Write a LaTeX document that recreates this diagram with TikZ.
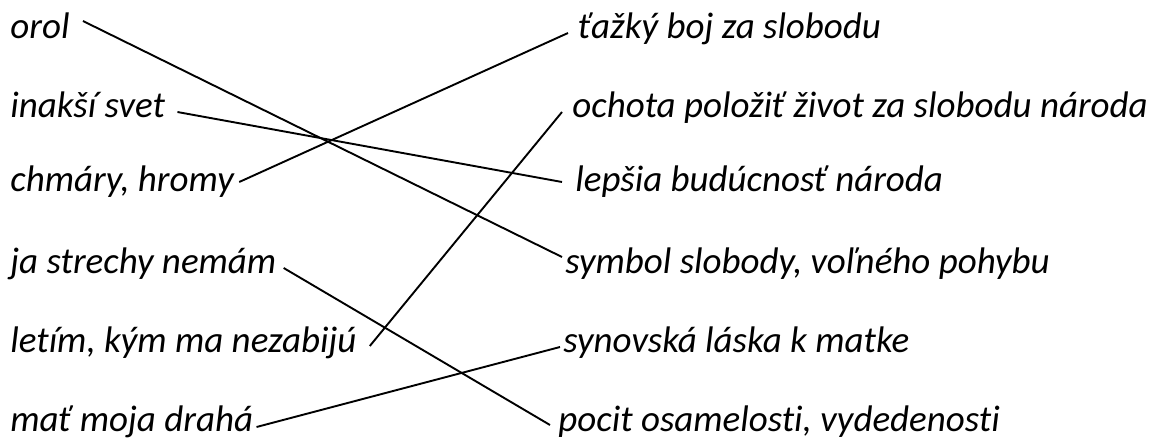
\documentclass[tikz,border=0pt]{standalone}
\usepackage{fontspec}
\setmainfont{Carlito}[Ligatures=NoCommon]
\usepackage{tikz}
\usetikzlibrary{positioning, calc}

\tikzset{
  item/.style={font=\itshape\fontsize{18.5pt}{21pt}\selectfont, inner sep=0pt},
  link/.style={line width=0.95pt}
}

\begin{document}
\begin{tikzpicture}[x=0.5pt, y=-0.5pt]
\useasboundingbox (0,0) rectangle (1156,439);

% Left column
\foreach \name/\y/\txt in {orol/39/orol, svet/117/inakší svet, hromy/191/{chmáry, hromy},
    strechy/273/ja strechy nemám, letim/352/{letím, kým ma nezabijú}, mat/431/mať moja drahá} {
    \node[item, anchor=base west] (\name) at (10,\y) {\txt};
}

% Right column
\foreach \name/\x/\y/\txt in {boj/578/39/ťažký boj za slobodu, ochota/572/117/ochota položiť život za slobodu národa,
    buducnost/575/191/lepšia budúcnosť národa, symbol/565/273/{symbol slobody, voľného pohybu},
    laska/563/352/synovská láska k matke, pocit/558/431/{pocit osamelosti, vydedenosti}} {
    \node[item, anchor=base west] (\name) at (\x,\y) {\txt};
}

% Pairs
\foreach \a/\ax/\ay/\b/\bx/\by in {orol/13/-18/symbol/-3/-16, svet/12/-5/buducnost/-13/-9,
    hromy/5/-9/boj/-10/-6, strechy/7/-5/pocit/-8/-6, letim/13/-6/ochota/-10/-5, mat/3/-4/laska/-3/-5} {
    \draw[link] ($(\a.base east)+(\ax,\ay)$) -- ($(\b.base west)+(\bx,\by)$);
}

\end{tikzpicture}
\end{document}
